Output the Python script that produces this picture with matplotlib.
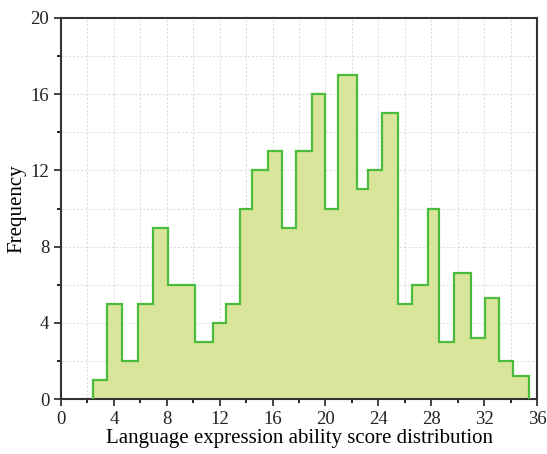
import numpy as np
import matplotlib.pyplot as plt
from matplotlib.ticker import MultipleLocator

# bin edges and counts
bin_edges = [2.45, 3.51, 4.6, 5.86, 6.95, 8.09, 9.1, 10.16, 11.47, 12.49,
             13.57, 14.46, 15.67, 16.73, 17.8, 18.95, 20.0, 20.98, 22.37, 23.22,
             24.31, 25.45, 26.54, 27.73, 28.56, 29.74, 31.0, 32.07, 33.15, 34.17,
             35.43]
counts = [1, 5, 2, 5, 9, 6, 6, 3, 4, 5,
          10, 12, 13, 9, 13, 16, 10, 17, 11, 12,
          15, 5, 6, 10, 3, 6.6, 3.2, 5.3, 2, 1.2]

plt.rcParams['font.family'] = ['Liberation Serif', 'DejaVu Serif']

fig = plt.figure(figsize=(5.47, 4.54), dpi=100)
ax = fig.add_axes([61 / 547, 1 - 399 / 454, 476 / 547, 381 / 454])

ax.stairs(counts, bin_edges, fill=True, color='#d9e59b', zorder=2)
ax.stairs(counts, bin_edges, color='#4cbc3c', linewidth=1.6, zorder=3)

ax.set_xlim(0, 36)
ax.set_ylim(0, 20)
ax.xaxis.set_major_locator(MultipleLocator(4))
ax.xaxis.set_minor_locator(MultipleLocator(2))
ax.yaxis.set_major_locator(MultipleLocator(4))
ax.yaxis.set_minor_locator(MultipleLocator(2))
ax.grid(which='both', color='#d9d9d9', linestyle=(0, (2, 2)), linewidth=0.7, zorder=0)
ax.set_axisbelow(True)

ax.tick_params(which='major', direction='out', length=5, width=1.2, labelsize=13.5, colors='#222222')
ax.tick_params(which='minor', direction='out', length=3, width=1.2)
for s in ax.spines.values():
    s.set_color('#333333')
    s.set_linewidth(1.5)

ax.set_xlabel('Language expression ability score distribution', fontsize=15, labelpad=1)
ax.set_ylabel('Frequency', fontsize=15, labelpad=3)

fig.savefig('out.png', dpi=100)
